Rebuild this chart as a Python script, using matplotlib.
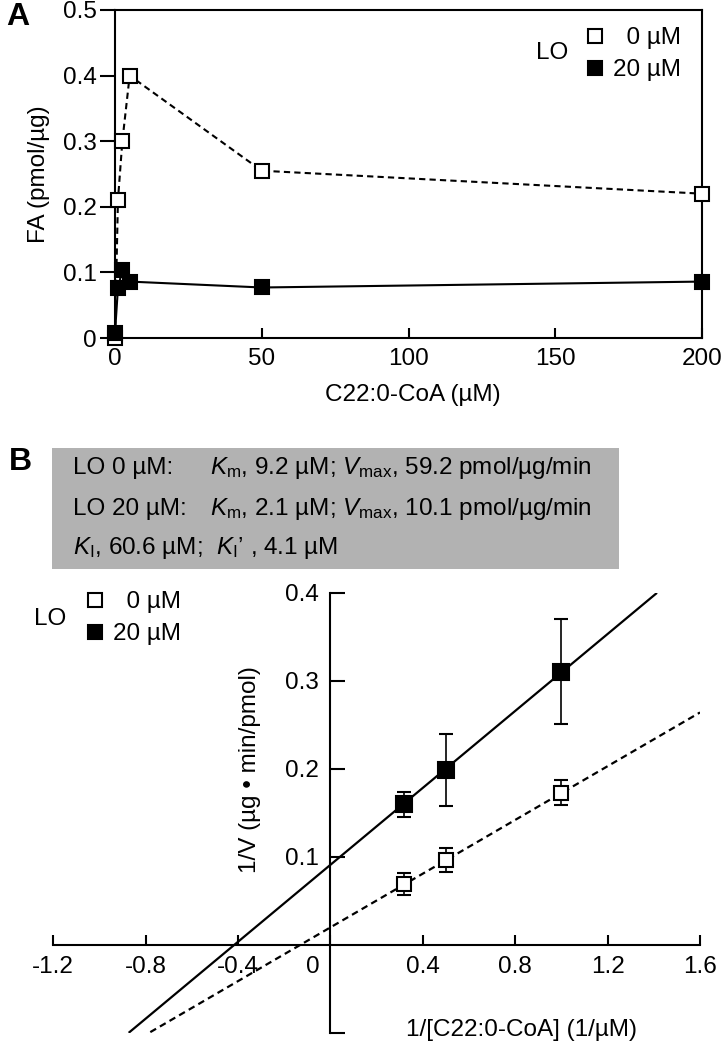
import numpy as np
import matplotlib
matplotlib.use("Agg")
import matplotlib.pyplot as plt
from matplotlib.lines import Line2D
from matplotlib.patches import Rectangle
from matplotlib.transforms import ScaledTranslation

plt.rcParams['font.family'] = ['Liberation Sans', 'DejaVu Sans']
plt.rcParams['mathtext.fontset'] = 'custom'
plt.rcParams['mathtext.rm'] = 'Liberation Sans'
plt.rcParams['mathtext.it'] = 'Liberation Sans:italic'
FS = 17.5
plt.rcParams['font.size'] = FS

# Panel A: FA formed vs C22:0-CoA concentration
conc_a = [0, 1, 2.5, 5, 50, 200]
fa_lo0 = [0.0, 0.21, 0.30, 0.40, 0.255, 0.22]
fa_lo20 = [0.008, 0.076, 0.104, 0.086, 0.077, 0.086]

# Panel B: Lineweaver-Burk plot
inv_s = [0.32, 0.5, 1.0]
inv_v_lo0 = [0.069, 0.0965, 0.173]
err_lo0 = [0.0125, 0.014, 0.0143]
inv_v_lo20 = [0.1595, 0.199, 0.3105]
err_lo20 = [0.0145, 0.041, 0.0595]

# regression lines (end points)
fit_x_lo0 = [-0.78, 1.60]
fit_y_lo0 = [-0.099, 0.264]
fit_x_lo20 = [-0.87, 1.41]
fit_y_lo20 = [-0.099, 0.399]

W, H = 723, 1044
MS = 10


def px(x, y):
    return x / W, 1 - y / H


fig = plt.figure(figsize=(W / 100, H / 100), dpi=100)

# ---------------- panel A ----------------
axA = fig.add_axes([115 / W, 1 - 338 / H, (702 - 115) / W, (338 - 10) / H])
axA.plot(conc_a, fa_lo0, ls=(0, (3, 2)), color='black', lw=1.5, marker='s', ms=MS,
         mfc='white', mec='black', mew=1.5, clip_on=False, zorder=3)
axA.plot(conc_a, fa_lo20, ls='-', color='black', lw=1.5, marker='s', ms=MS,
         mfc='black', mec='black', mew=1.5, clip_on=False, zorder=4)
axA.set_xlim(0, 200)
axA.set_ylim(0, 0.5)
axA.set_xticks([0, 50, 100, 150, 200])
axA.set_yticks([0, 0.1, 0.2, 0.3, 0.4, 0.5])
axA.set_yticklabels(['0', '0.1', '0.2', '0.3', '0.4', '0.5'])
axA.tick_params(axis='x', direction='in', length=7, width=1.5, pad=7, labelsize=FS)
axA.tick_params(axis='y', direction='out', length=11, width=1.5, pad=2, labelsize=FS)
for sp in axA.spines.values():
    sp.set_linewidth(1.5)

fig.text(*px(39, 174), 'FA (pmol/µg)', rotation=90, ha='center', va='center', fontsize=FS)
fig.text(*px(413, 395), 'C22:0-CoA (µM)', ha='center', va='center', fontsize=FS)

handles = [Line2D([], [], ls='none', marker='s', ms=MS, mfc='white', mec='black', mew=1.5),
           Line2D([], [], ls='none', marker='s', ms=MS, mfc='black', mec='black', mew=1.5)]
labels = ['  0 µM', '20 µM']
fig.legend(handles, labels, loc='upper right', bbox_to_anchor=px(681, 27),
           frameon=False, fontsize=FS, handlelength=0.8, handletextpad=0.35,
           labelspacing=0.42, borderpad=0, borderaxespad=0)
fig.text(*px(552, 53), 'LO', ha='center', va='center', fontsize=FS)

fig.text(*px(18, 17), 'A', ha='center', va='center', fontsize=23, fontweight='bold')
fig.text(*px(20, 462), 'B', ha='center', va='center', fontsize=23, fontweight='bold')

# ---------------- info box ----------------
x0, y0 = px(52, 569)
x1, y1 = px(619, 448)
fig.patches.append(Rectangle((x0, y0), x1 - x0, y1 - y0, transform=fig.transFigure,
                             facecolor='#b2b2b2', edgecolor='none', zorder=0))
fig.text(*px(73, 468), 'LO 0 µM:', ha='left', va='center', fontsize=FS)
fig.text(*px(210, 468), r'$\mathit{K}_{\mathrm{m}}$, 9.2 µM; $\mathit{V}_{\mathrm{max}}$, 59.2 pmol/µg/min',
         ha='left', va='center', fontsize=FS)
fig.text(*px(73, 509), 'LO 20 µM:', ha='left', va='center', fontsize=FS)
fig.text(*px(210, 509), r'$\mathit{K}_{\mathrm{m}}$, 2.1 µM; $\mathit{V}_{\mathrm{max}}$, 10.1 pmol/µg/min',
         ha='left', va='center', fontsize=FS)
fig.text(*px(73, 548), r'$\mathit{K}_{\mathrm{I}}$, 60.6 µM;  $\mathit{K}_{\mathrm{I}}$’ , 4.1 µM',
         ha='left', va='center', fontsize=FS)

# ---------------- panel B ----------------
axB = fig.add_axes([53.3 / W, 1 - 1033 / H, (700 - 53.3) / W, (1033 - 592.7) / H])
axB.plot(fit_x_lo20, fit_y_lo20, color='black', lw=1.6, zorder=2)
axB.plot(fit_x_lo0, fit_y_lo0, color='black', lw=1.6, ls=(0, (3, 2)), zorder=2)
axB.errorbar(inv_s, inv_v_lo0, yerr=err_lo0, fmt='s', ms=MS, mfc='white', mec='black',
             mew=1.5, ecolor='black', elinewidth=1.2, capsize=5, capthick=1.2, zorder=3)
axB.errorbar(inv_s, inv_v_lo20, yerr=err_lo20, fmt='s', ms=MS + 1, mfc='black', mec='black',
             mew=1.5, ecolor='black', elinewidth=1.2, capsize=5, capthick=1.2, zorder=3)
axB.set_xlim(-1.2, 1.6)
axB.set_ylim(-0.1, 0.4)
axB.spines['left'].set_position(('data', 0))
axB.spines['bottom'].set_position(('data', 0))
axB.spines['top'].set_visible(False)
axB.spines['right'].set_visible(False)
for sp in axB.spines.values():
    sp.set_linewidth(1.5)
axB.set_xticks([-1.2, -0.8, -0.4, 0, 0.4, 0.8, 1.2, 1.6])
axB.set_xticklabels(['-1.2', '-0.8', '-0.4', '0', '0.4', '0.8', '1.2', '1.6'])
axB.set_yticks([-0.1, 0.1, 0.2, 0.3, 0.4])
axB.set_yticklabels(['', '0.1', '0.2', '0.3', '0.4'])
axB.tick_params(axis='x', direction='in', length=7, width=1.5, pad=8, labelsize=FS)
axB.tick_params(axis='y', direction='in', length=11, width=1.5, pad=8, labelsize=FS)
for lab in axB.get_xticklabels():
    if lab.get_text() == '0':
        lab.set_transform(lab.get_transform() + ScaledTranslation(-18 / 100, 0, fig.dpi_scale_trans))

fig.text(*px(250, 770), '1/V (µg • min/pmol)', rotation=90, ha='center', va='center', fontsize=FS)
fig.text(*px(521, 1030), '1/[C22:0-CoA] (1/µM)', ha='center', va='center', fontsize=FS)

fig.legend(handles, labels, loc='upper right', bbox_to_anchor=px(181, 591),
           frameon=False, fontsize=FS, handlelength=0.8, handletextpad=0.35,
           labelspacing=0.42, borderpad=0, borderaxespad=0)
fig.text(*px(50, 619), 'LO', ha='center', va='center', fontsize=FS)

fig.savefig('out.png', dpi=100)
